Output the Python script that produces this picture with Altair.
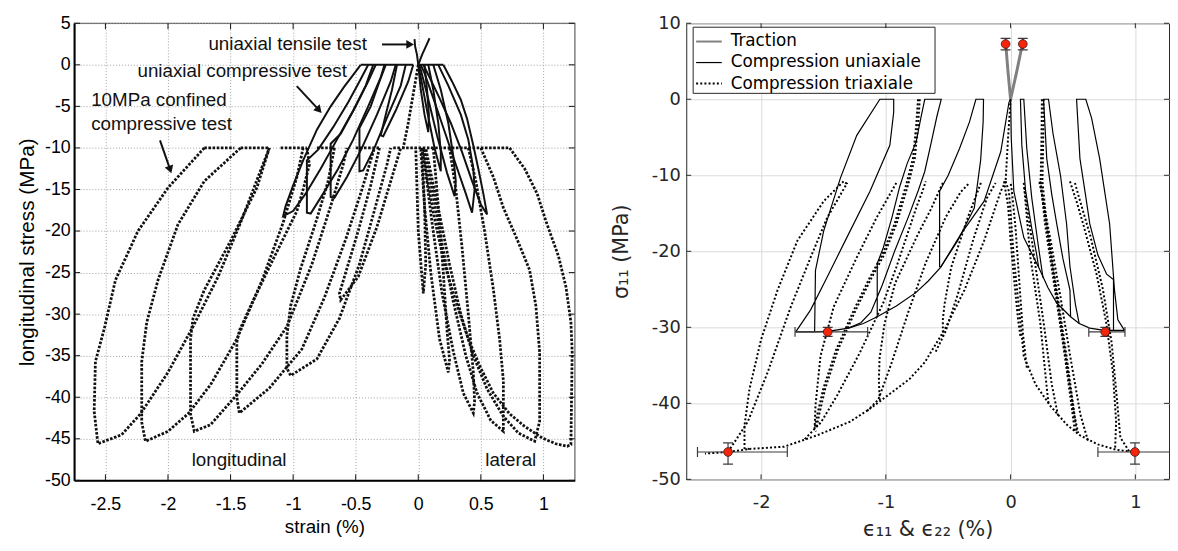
import altair as alt
import pandas as pd

# =====================================================================
# LEFT PANEL  (strain %, longitudinal stress MPa)
# =====================================================================
L_XTICKS = [-2.5, -2, -1.5, -1, -0.5, 0, 0.5, 1]
L_YTICKS = [5, 0, -5, -10, -15, -20, -25, -30, -35, -40, -45, -50]

# --- 10 MPa confined compressive test (dotted) ---
lt_hydro = [(0.0, 0.0), (-0.04, -3.5), (-0.08, -7.0), (-0.12, -10.0)]
lt_plat_1 = [(-1.71, -10.0), (-1.47, -10.0)]
lt_plat_2 = [(-1.42, -10.0), (-1.19, -10.0)]
lt_plat_3 = [(-1.10, -10.0), (-0.89, -10.0)]
lt_plat_4 = [(-0.81, -10.0), (-0.67, -10.0)]
lt_plat_5 = [(-0.50, -10.0), (-0.31, -10.0)]
lt_plat_6 = [(-0.20, -10.0), (-0.14, -10.0)]
lt_plat_7 = [(-0.13, -10.0), (0.73, -10.0)]
lt_loop_a = [(-1.71, -10.0), (-2.00, -14.8), (-2.24, -20.0), (-2.42, -25.9), (-2.51, -31.8), (-2.58, -35.7),
             (-2.59, -41.7), (-2.56, -45.6), (-2.37, -44.5), (-2.22, -42.0), (-2.00, -37.0), (-1.80, -31.5),
             (-1.60, -25.5), (-1.42, -19.0), (-1.28, -13.5), (-1.19, -10.0)]
lt_loop_b = [(-1.42, -10.0), (-1.71, -14.0), (-1.92, -19.2), (-2.08, -25.9), (-2.17, -31.0), (-2.21, -35.7),
             (-2.21, -43.0), (-2.18, -45.3), (-2.00, -44.1), (-1.84, -42.0), (-1.66, -38.5), (-1.45, -33.0),
             (-1.25, -26.0), (-1.08, -19.0), (-0.97, -13.5), (-0.92, -10.0)]
lt_loop_c = [(-1.19, -10.0), (-1.29, -14.8), (-1.50, -21.2), (-1.71, -27.1), (-1.80, -30.5), (-1.82, -33.0),
             (-1.82, -42.0), (-1.79, -44.1), (-1.66, -43.3), (-1.45, -39.7), (-1.25, -36.0), (-1.05, -31.5),
             (-0.85, -24.0), (-0.70, -17.0), (-0.60, -12.0), (-0.57, -10.0)]
lt_loop_d = [(-0.89, -10.0), (-0.87, -12.0), (-0.92, -15.0), (-0.97, -17.6), (-1.15, -23.1), (-1.33, -28.7),
             (-1.43, -32.0), (-1.45, -33.4), (-1.45, -40.0), (-1.43, -41.9), (-1.19, -38.9), (-0.93, -34.2),
             (-0.75, -28.0), (-0.58, -21.0), (-0.45, -15.0), (-0.37, -11.0), (-0.35, -10.0)]
lt_loop_e = [(-0.67, -10.0), (-0.72, -14.0), (-0.82, -19.0), (-0.94, -24.5), (-1.02, -29.0), (-1.05, -32.6),
             (-1.05, -36.5), (-1.02, -37.4), (-0.81, -35.4), (-0.63, -30.5), (-0.47, -24.0), (-0.35, -17.5),
             (-0.25, -12.0), (-0.22, -10.0)]
lt_loop_f = [(-0.31, -10.0), (-0.38, -14.5), (-0.48, -20.0), (-0.58, -25.0), (-0.63, -27.5), (-0.62, -28.3),
             (-0.48, -25.5), (-0.33, -19.5), (-0.20, -13.0), (-0.14, -10.0)]
lt_lat_1 = [(0.73, -10.0), (0.85, -12.5), (0.95, -15.5), (1.02, -18.8), (1.12, -23.0), (1.18, -26.7),
            (1.22, -31.0), (1.23, -34.6), (1.225, -40.0), (1.22, -45.7), (1.19, -45.9), (1.10, -45.6),
            (0.99, -44.9), (0.85, -43.5), (0.73, -42.0), (0.60, -39.5), (0.50, -36.5), (0.40, -33.0),
            (0.30, -28.5), (0.21, -24.0), (0.13, -18.5), (0.07, -13.5), (0.04, -10.0)]
lt_lat_2 = [(0.50, -10.0), (0.60, -13.5), (0.68, -17.2), (0.79, -21.0), (0.89, -24.7), (0.94, -29.0),
            (0.97, -34.6), (0.97, -42.9), (0.93, -45.3), (0.80, -44.3), (0.68, -42.3), (0.55, -39.0),
            (0.44, -35.0), (0.34, -30.0), (0.25, -24.0), (0.17, -18.0), (0.10, -13.0), (0.06, -10.0)]
lt_lat_3 = [(0.40, -10.0), (0.46, -14.0), (0.53, -20.0), (0.60, -27.0), (0.65, -33.0), (0.68, -38.0),
            (0.68, -42.0), (0.68, -44.1), (0.58, -42.8), (0.47, -39.5), (0.38, -35.0), (0.28, -28.5),
            (0.19, -21.5), (0.11, -15.0), (0.06, -11.0), (0.04, -10.0)]
lt_lat_4 = [(0.25, -10.0), (0.30, -15.0), (0.35, -22.0), (0.40, -30.0), (0.44, -37.0), (0.45, -40.5),
            (0.44, -41.9), (0.36, -39.5), (0.28, -34.5), (0.19, -27.5), (0.11, -19.0), (0.06, -13.0), (0.03, -10.0)]
lt_lat_5 = [(0.12, -10.0), (0.16, -17.0), (0.20, -25.0), (0.23, -32.0), (0.25, -35.5), (0.24, -37.0),
            (0.17, -33.0), (0.10, -25.0), (0.05, -17.0), (0.02, -10.0)]
lt_lat_6 = [(0.03, -10.0), (0.05, -17.0), (0.06, -24.0), (0.04, -27.5), (0.00, -20.0), (-0.02, -10.0)]

# --- uniaxial compressive / tensile tests (solid) ---
lu_plat_long = [(-0.46, 0.0), (-0.04, 0.0)]
lu_plat_lat = [(0.0, 0.0), (0.20, 0.0)]
lu_long_1 = [(-0.46, 0.0), (-0.52, -1.2), (-0.59, -2.6), (-0.70, -5.0), (-0.81, -7.8), (-0.92, -11.5),
             (-1.00, -14.5), (-1.06, -17.0), (-1.08, -18.2), (-1.00, -17.6), (-0.90, -15.5), (-0.78, -12.5),
             (-0.65, -9.0), (-0.52, -5.5), (-0.42, -2.5), (-0.36, 0.0)]
lu_long_2 = [(-0.40, 0.0), (-0.47, -2.0), (-0.56, -4.5), (-0.68, -7.5), (-0.80, -10.2), (-0.89, -11.5),
             (-0.89, -17.8), (-0.86, -17.9), (-0.76, -15.5), (-0.64, -12.5), (-0.52, -9.0), (-0.40, -5.0),
             (-0.30, -1.5), (-0.27, 0.0)]
lu_long_3 = [(-0.34, 0.0), (-0.40, -2.0), (-0.50, -5.0), (-0.62, -8.3), (-0.70, -9.5), (-0.70, -15.9),
             (-0.67, -16.0), (-0.57, -13.5), (-0.45, -10.0), (-0.33, -6.0), (-0.22, -2.0), (-0.18, 0.0)]
lu_long_4 = [(-0.26, 0.0), (-0.31, -2.0), (-0.38, -5.0), (-0.47, -7.6), (-0.47, -12.8), (-0.44, -12.7),
             (-0.35, -10.0), (-0.24, -6.0), (-0.14, -2.5), (-0.10, 0.0)]
lu_long_5 = [(-0.17, 0.0), (-0.21, -3.0), (-0.26, -6.0), (-0.30, -8.5), (-0.28, -8.6), (-0.18, -5.5),
             (-0.08, -2.0), (-0.04, 0.0)]
lu_lat_1 = [(0.20, 0.0), (0.27, -2.0), (0.34, -4.2), (0.39, -6.5), (0.44, -9.7), (0.48, -12.5), (0.52, -15.5),
            (0.55, -18.0), (0.50, -16.8), (0.43, -14.0), (0.35, -10.5), (0.26, -7.0), (0.17, -4.0), (0.09, -1.5),
            (0.04, 0.0)]
lu_lat_2 = [(0.16, 0.0), (0.24, -2.5), (0.34, -6.0), (0.40, -9.0), (0.44, -12.5), (0.45, -15.0), (0.43, -17.8),
            (0.38, -15.5), (0.30, -12.0), (0.21, -8.0), (0.12, -4.0), (0.05, -1.0), (0.02, 0.0)]
lu_lat_3 = [(0.12, 0.0), (0.18, -3.0), (0.24, -7.0), (0.28, -11.0), (0.30, -14.0), (0.29, -15.8), (0.23, -13.0),
            (0.15, -8.5), (0.07, -3.5), (0.01, 0.0)]
lu_lat_4 = [(0.08, 0.0), (0.12, -3.0), (0.16, -7.0), (0.18, -10.5), (0.18, -12.8), (0.13, -10.0), (0.07, -5.5),
            (0.02, -1.5), (0.0, 0.0)]
lu_lat_5 = [(0.05, 0.0), (0.07, -3.0), (0.085, -6.0), (0.08, -8.1), (0.05, -6.0), (0.02, -3.0), (0.0, 0.0)]
lu_tens_1 = [(0.0, 0.0), (-0.01, 1.2), (-0.025, 2.2), (-0.03, 3.1)]
lu_tens_2 = [(0.0, 0.0), (0.03, 1.2), (0.06, 2.2), (0.09, 3.2)]

# --- annotations ---
ann_text = ["uniaxial tensile test", "uniaxial compressive test", "10MPa confined",
            "compressive test", "longitudinal", "lateral"]
ann_x = [-1.677, -2.244, -2.614, -2.614, -1.811, 0.535]
ann_y = [2.45, -0.75, -4.19, -7.15, -47.6, -47.6]
arr_x0 = [-0.29, -0.971, -2.064]
arr_y0 = [2.45, -2.56, -9.09]
arr_x1 = [-0.075, -0.80, -1.986]
arr_y1 = [2.45, -5.34, -12.46]
arr_angle = [90, 137, 161]

# =====================================================================
# RIGHT PANEL  (eps11 & eps22 %, sigma11 MPa)
# =====================================================================
R_XTICKS = [-2, -1, 0, 1]
R_YTICKS = [10, 0, -10, -20, -30, -40, -50]
LEG_LABELS = ["Traction", "Compression uniaxiale", "Compression triaxiale"]

# --- traction (grey) ---
rt_1 = [(0.0, 0.0), (-0.02, 3.5), (-0.035, 6.5), (-0.04, 7.27)]
rt_2 = [(0.0, 0.0), (0.05, 3.7), (0.085, 6.5), (0.098, 7.27)]

# --- compression uniaxiale (solid) ---
ru_long_low = [(0.0, 0.0), (-0.013, -0.4), (-0.079, -6.9), (-0.212, -13.4), (-0.397, -17.7), (-0.561, -22.1),
               (-0.66, -23.9), (-0.757, -25.4), (-0.916, -27.2), (-1.069, -28.6), (-1.18, -29.5), (-1.30, -30.1),
               (-1.45, -30.5), (-1.571, -30.6), (-1.722, -30.6)]
ru_long_a = [(-1.722, -30.6), (-1.603, -27.7), (-1.471, -23.4), (-1.313, -18.2), (-1.127, -12.1),
             (-0.968, -6.05), (-0.937, -1.7), (-0.937, 0.0), (-1.048, 0.0), (-1.233, -4.75), (-1.365, -10.4),
             (-1.498, -17.3), (-1.564, -22.5), (-1.571, -30.6)]
ru_long_b = [(-1.30, -30.1), (-1.20, -29.4), (-1.12, -28.0), (-1.03, -24.5), (-0.93, -20.0), (-0.82, -15.5),
             (-0.74, -12.0), (-0.688, -9.5), (-0.635, -5.6), (-0.59, -2.2), (-0.556, 0.0), (-0.688, 0.0),
             (-0.72, -2.5), (-0.757, -5.6), (-0.83, -8.5), (-0.889, -11.5), (-0.95, -15.5), (-1.02, -19.5),
             (-1.069, -21.6), (-1.069, -28.6)]
ru_long_c = [(-0.561, -22.1), (-0.424, -18.6), (-0.291, -14.3), (-0.24, -8.0), (-0.22, -3.0), (-0.217, 0.0),
             (-0.278, 0.0), (-0.33, -3.0), (-0.41, -6.5), (-0.50, -10.0), (-0.569, -12.1), (-0.569, -22.1)]
ru_lat_low = [(0.0, 0.0), (0.005, -5.0), (0.026, -12.1), (0.106, -18.2), (0.225, -22.1), (0.30, -24.8),
              (0.37, -26.8), (0.481, -28.6), (0.55, -29.5), (0.635, -30.1), (0.75, -30.4), (0.825, -30.4),
              (0.913, -30.4)]
ru_lat_a = [(0.913, -30.4), (0.86, -29.0), (0.833, -25.1), (0.794, -16.4), (0.714, -7.8), (0.65, -2.5),
            (0.603, 0.0), (0.529, 0.0), (0.556, -7.8), (0.60, -12.5), (0.635, -16.4), (0.70, -20.5),
            (0.77, -23.0), (0.825, -23.7), (0.825, -30.4)]
ru_lat_b = [(0.55, -29.5), (0.52, -27.0), (0.476, -22.0), (0.449, -16.4), (0.40, -10.0), (0.34, -4.5),
            (0.304, 0.0), (0.264, 0.0), (0.29, -7.8), (0.33, -12.5), (0.37, -16.4), (0.42, -21.0),
            (0.476, -25.1), (0.481, -28.6)]
ru_lat_c = [(0.26, -23.5), (0.22, -19.0), (0.17, -13.0), (0.13, -6.5), (0.106, 0.0), (0.079, 0.0),
            (0.09, -6.0), (0.12, -12.0), (0.17, -17.0), (0.21, -20.5), (0.225, -22.1)]

# --- compression triaxiale (dotted) ---
rx_hydro = [(0.0, 0.0), (-0.02, -5.0), (-0.04, -10.8)]
rx_long_low = [(-0.04, -10.8), (-0.079, -12.1), (-0.212, -18.6), (-0.37, -25.1), (-0.529, -30.3),
               (-0.688, -34.6), (-0.81, -36.8), (-1.021, -39.4), (-1.127, -40.7), (-1.286, -42.4),
               (-1.55, -44.2), (-1.815, -45.7), (-2.093, -46.0), (-2.265, -46.4), (-2.45, -46.6)]
rx_a_env = [(-1.339, -10.8), (-1.498, -13.4), (-1.709, -18.6), (-1.868, -25.1), (-2.0, -31.6),
            (-2.093, -38.1), (-2.133, -42.9), (-2.133, -45.9), (-2.093, -46.0)]
rx_a_unl = [(-2.265, -46.4), (-2.106, -42.4), (-1.947, -35.9), (-1.762, -27.3), (-1.603, -20.8),
            (-1.471, -15.6), (-1.313, -11.1), (-1.339, -10.8)]
rx_b_env = [(-0.916, -11.0), (-1.075, -15.6), (-1.233, -20.8), (-1.418, -27.3), (-1.524, -33.8),
            (-1.564, -40.3), (-1.571, -43.3), (-1.56, -43.7)]
rx_b_unl = [(-1.65, -44.7), (-1.52, -42.5), (-1.392, -39.0), (-1.207, -33.3), (-1.021, -26.8),
            (-0.916, -22.1), (-0.757, -14.3), (-0.70, -11.8), (-0.68, -10.8)]
rx_z_long_1 = [(-0.742, 0.0), (-0.757, -3.5), (-0.783, -7.8), (-0.836, -11.2), (-0.93, -16.4),
               (-1.03, -20.5), (-1.127, -23.4), (-1.25, -27.5), (-1.40, -33.0), (-1.50, -38.0),
               (-1.55, -41.5), (-1.571, -43.3)]
rx_z_long_2 = [(-0.728, 0.0), (-0.742, -3.5), (-0.768, -7.8), (-0.821, -11.2), (-0.915, -16.4),
               (-1.015, -20.5), (-1.112, -23.4), (-1.235, -27.5), (-1.385, -33.0), (-1.485, -38.0),
               (-1.535, -41.5), (-1.556, -43.3)]
rx_c_env = [(-0.543, -11.0), (-0.64, -14.5), (-0.741, -17.7), (-0.926, -24.2), (-1.01, -29.5),
            (-1.05, -34.0), (-1.056, -37.0), (-1.048, -39.8)]
rx_c_unl = [(-1.15, -41.0), (-1.06, -39.5), (-0.95, -34.5), (-0.82, -28.0), (-0.68, -21.5),
            (-0.52, -15.5), (-0.40, -12.2), (-0.33, -11.0)]
rx_d_env = [(-0.238, -11.0), (-0.344, -15.6), (-0.476, -22.1), (-0.53, -27.0), (-0.543, -29.0),
            (-0.543, -31.2)]
rx_d_unl = [(-0.60, -33.2), (-0.52, -30.5), (-0.42, -25.5), (-0.30, -18.5), (-0.19, -13.0), (-0.12, -11.0)]
rx_lat_low = [(-0.04, -10.8), (-0.013, -12.1), (0.026, -20.8), (0.066, -27.3), (0.106, -33.8), (0.20, -37.5),
              (0.317, -40.3), (0.45, -42.8), (0.556, -44.2), (0.70, -45.4), (0.846, -46.1), (0.997, -46.4)]
rx_lat_a_env = [(0.476, -10.8), (0.53, -13.5), (0.582, -16.4), (0.688, -22.9), (0.767, -29.4),
                (0.82, -35.9), (0.846, -42.4), (0.838, -45.9)]
rx_lat_a_unl = [(0.95, -46.3), (0.88, -44.5), (0.85, -39.0), (0.81, -32.0), (0.74, -25.0), (0.64, -18.0),
                (0.55, -13.0), (0.516, -11.0)]
rx_z_lat_1 = [(0.265, 0.0), (0.262, -5.0), (0.255, -10.8), (0.29, -16.4), (0.37, -25.1), (0.449, -33.8),
              (0.50, -40.0), (0.529, -43.7)]
rx_z_lat_2 = [(0.251, 0.0), (0.248, -5.0), (0.241, -10.8), (0.276, -16.4), (0.356, -25.1), (0.435, -33.8),
              (0.486, -40.0), (0.515, -43.7)]
rx_lat_b_env = [(0.238, -10.8), (0.30, -18.0), (0.38, -27.0), (0.46, -36.0), (0.51, -41.5), (0.542, -43.9)]
rx_lat_b_unl = [(0.62, -44.9), (0.56, -41.5), (0.48, -34.0), (0.40, -26.0), (0.32, -18.5), (0.25, -12.5),
                (0.23, -10.8)]
rx_lat_c_env = [(0.106, -11.0), (0.13, -15.5), (0.159, -20.8), (0.238, -29.4), (0.291, -38.1), (0.304, -40.0)]
rx_lat_c_unl = [(0.38, -41.6), (0.33, -37.5), (0.27, -30.0), (0.20, -22.0), (0.14, -15.0), (0.11, -11.5)]
rx_lat_d_env = [(-0.053, -10.8), (-0.02, -14.0), (0.0, -18.6), (0.03, -24.0), (0.06, -29.0), (0.079, -31.2)]
rx_lat_d_unl = [(0.13, -35.3), (0.10, -31.0), (0.07, -24.0), (0.04, -17.0), (0.01, -12.0), (0.0, -11.0)]

# --- experimental points with error bars ---
pt_x = [-2.265, -1.466, 0.759, 0.997, -0.04, 0.098]
pt_y = [-46.4, -30.6, -30.6, -46.4, 7.27, 7.27]
ex_lo = [-2.51, -1.728, 0.627, 0.70, -0.04, 0.098]
ex_hi = [-1.79, -1.146, 0.917, 1.32, -0.04, 0.098]
ey_lo = [-48.0, -31.2, -31.2, -48.0, 6.5, 6.5]
ey_hi = [-45.2, -30.0, -30.0, -45.2, 8.0, 8.0]


# =====================================================================
def curves_frame(named):
    rows = []
    for name, pts in named.items():
        for i, (x, y) in enumerate(pts):
            rows.append({"curve": name, "i": i, "x": x, "y": y})
    return pd.DataFrame(rows)


LFONT = "Liberation Sans"
RFONT = "DejaVu Sans"
LW, LH = 507, 463
RW, RH = 489, 462

lxs = alt.Scale(domain=[-2.75, 1.25], nice=False, zero=False)
lys = alt.Scale(domain=[-50, 5], nice=False, zero=False)
rxs = alt.Scale(domain=[-2.6, 1.27], nice=False, zero=False)
rys = alt.Scale(domain=[-50, 10], nice=False, zero=False)

l_common = dict(labelExpr="toString(datum.value)", ticks=False, domainColor="black", domainWidth=2,
                grid=True, gridColor="#a0a0a0", gridDash=[1, 2], gridWidth=1, labelFont=LFONT,
                labelFontSize=18, labelColor="black", titleFont=LFONT, titleFontWeight="normal",
                titleColor="black")
lx_axis = alt.Axis(values=L_XTICKS, title="strain (%)", labelPadding=16, titleFontSize=19,
                   titlePadding=4, **l_common)
ly_axis = alt.Axis(values=L_YTICKS, title="longitudinal stress (MPa)", labelPadding=4, titleFontSize=21,
                   titlePadding=7, **l_common)

r_common = dict(labelExpr="toString(datum.value)", ticks=False, domain=False, grid=True,
                gridColor="#dadada", gridWidth=1, labelFont=RFONT, labelFontSize=18, labelColor="#262626",
                titleFont=RFONT, titleFontWeight="normal", titleColor="#262626", titleFontSize=21)
rx_axis = alt.Axis(values=R_XTICKS, title="ϵ₁₁ & ϵ₂₂ (%)", labelPadding=15, titlePadding=7, **r_common)
ry_axis = alt.Axis(values=R_YTICKS, title="σ₁₁  (MPa)", labelPadding=6, titlePadding=20, **r_common)


def LX(f="x"):
    return alt.X(f"{f}:Q", scale=lxs, axis=lx_axis)


def LY(f="y"):
    return alt.Y(f"{f}:Q", scale=lys, axis=ly_axis)


def RX(f="x"):
    return alt.X(f"{f}:Q", scale=rxs, axis=rx_axis)


def RY(f="y"):
    return alt.Y(f"{f}:Q", scale=rys, axis=ry_axis)


def lines(named, X, Y, **mark):
    return alt.Chart(curves_frame(named)).mark_line(clip=True, **mark).encode(
        x=X(), y=Y(), detail="curve:N", order="i:Q")


def inward_ticks(xs, ys, X, Y, W, H, L, color):
    xt = pd.DataFrame({"x": xs})
    yt = pd.DataFrame({"y": ys})
    m = dict(color=color, strokeWidth=1)
    return [
        alt.Chart(xt).mark_rule(**m).encode(x=X(), y=alt.value(H - L), y2=alt.value(H)),
        alt.Chart(xt).mark_rule(**m).encode(x=X(), y=alt.value(0), y2=alt.value(L)),
        alt.Chart(yt).mark_rule(**m).encode(y=Y(), x=alt.value(0), x2=alt.value(L)),
        alt.Chart(yt).mark_rule(**m).encode(y=Y(), x=alt.value(W - L), x2=alt.value(W)),
    ]


# ---------------- left panel ----------------
left_dotted = dict(lt_hydro=lt_hydro, lt_plat_1=lt_plat_1, lt_plat_2=lt_plat_2, lt_plat_3=lt_plat_3,
                   lt_plat_4=lt_plat_4, lt_plat_5=lt_plat_5, lt_plat_6=lt_plat_6, lt_plat_7=lt_plat_7,
                   lt_loop_a=lt_loop_a, lt_loop_b=lt_loop_b, lt_loop_c=lt_loop_c, lt_loop_d=lt_loop_d,
                   lt_loop_e=lt_loop_e, lt_loop_f=lt_loop_f, lt_lat_1=lt_lat_1, lt_lat_2=lt_lat_2,
                   lt_lat_3=lt_lat_3, lt_lat_4=lt_lat_4, lt_lat_5=lt_lat_5, lt_lat_6=lt_lat_6)
left_solid = dict(lu_plat_long=lu_plat_long, lu_plat_lat=lu_plat_lat, lu_long_1=lu_long_1,
                  lu_long_2=lu_long_2, lu_long_3=lu_long_3, lu_long_4=lu_long_4, lu_long_5=lu_long_5,
                  lu_lat_1=lu_lat_1, lu_lat_2=lu_lat_2, lu_lat_3=lu_lat_3, lu_lat_4=lu_lat_4,
                  lu_lat_5=lu_lat_5, lu_tens_1=lu_tens_1, lu_tens_2=lu_tens_2)

l_dot = lines(left_dotted, LX, LY, color="#111111", strokeWidth=2.8, strokeDash=[2.6, 1.6])
l_sol = lines(left_solid, LX, LY, color="#111111", strokeWidth=2)
ann_df = pd.DataFrame({"x": ann_x, "y": ann_y, "t": ann_text})
l_txt = alt.Chart(ann_df).mark_text(align="left", baseline="middle", font=LFONT, fontSize=19,
                                    color="#111111").encode(x=LX(), y=LY(), text="t:N")
arr_df = pd.DataFrame({"x": arr_x0, "y": arr_y0, "x2": arr_x1, "y2": arr_y1, "a": arr_angle})
l_shaft = alt.Chart(arr_df).mark_rule(color="#111111", strokeWidth=2).encode(
    x=LX(), y=LY(), x2="x2:Q", y2="y2:Q")
l_head = alt.Chart(arr_df).mark_point(shape="triangle", filled=True, color="#111111", size=80,
                                      opacity=1).encode(
    x=LX("x2"), y=LY("y2"), angle=alt.Angle("a:Q", scale=None))

left = alt.layer(
    l_dot, l_sol, l_shaft, l_head, l_txt,
    *inward_ticks(L_XTICKS, L_YTICKS, LX, LY, LW, LH, 6, "#111111"),
).properties(width=LW, height=LH,
             view=alt.ViewBackground(stroke="#6a6a6a", strokeWidth=1.3, fill="white"))

# ---------------- right panel ----------------
right_trac = dict(rt_1=rt_1, rt_2=rt_2)
right_solid = dict(ru_long_low=ru_long_low, ru_long_a=ru_long_a, ru_long_b=ru_long_b, ru_long_c=ru_long_c,
                   ru_lat_low=ru_lat_low, ru_lat_a=ru_lat_a, ru_lat_b=ru_lat_b, ru_lat_c=ru_lat_c)
right_dotted = dict(rx_hydro=rx_hydro, rx_long_low=rx_long_low, rx_a_env=rx_a_env, rx_a_unl=rx_a_unl,
                    rx_b_env=rx_b_env, rx_b_unl=rx_b_unl, rx_z_long_1=rx_z_long_1, rx_z_long_2=rx_z_long_2,
                    rx_c_env=rx_c_env, rx_c_unl=rx_c_unl, rx_d_env=rx_d_env, rx_d_unl=rx_d_unl,
                    rx_lat_low=rx_lat_low, rx_lat_a_env=rx_lat_a_env, rx_lat_a_unl=rx_lat_a_unl,
                    rx_z_lat_1=rx_z_lat_1, rx_z_lat_2=rx_z_lat_2, rx_lat_b_env=rx_lat_b_env,
                    rx_lat_b_unl=rx_lat_b_unl, rx_lat_c_env=rx_lat_c_env, rx_lat_c_unl=rx_lat_c_unl,
                    rx_lat_d_env=rx_lat_d_env, rx_lat_d_unl=rx_lat_d_unl)

TRAC_STYLE = dict(color="#808080", strokeWidth=3)
UNI_STYLE = dict(color="#000000", strokeWidth=1.2)
TRI_STYLE = dict(color="#000000", strokeWidth=2, strokeDash=[2, 2.2])
EB_COLOR = "#3c3c3c"

r_trac = lines(right_trac, RX, RY, **TRAC_STYLE)
r_dot = lines(right_dotted, RX, RY, **TRI_STYLE)
r_sol = lines(right_solid, RX, RY, **UNI_STYLE)

eb_df = pd.DataFrame({"x": pt_x, "y": pt_y, "xlo": ex_lo, "xhi": ex_hi, "ylo": ey_lo, "yhi": ey_hi})
eb = alt.Chart(eb_df)
r_hbar = eb.mark_rule(color=EB_COLOR, strokeWidth=1.2, clip=True).encode(x=RX("xlo"), x2="xhi:Q", y=RY())
r_vbar = eb.mark_rule(color=EB_COLOR, strokeWidth=1.2, clip=True).encode(x=RX(), y=RY("ylo"), y2="yhi:Q")
cap_m = dict(color=EB_COLOR, thickness=1.2, size=10, opacity=1, clip=True)
r_cap1 = eb.mark_tick(orient="vertical", **cap_m).encode(x=RX("xlo"), y=RY())
r_cap2 = eb.mark_tick(orient="vertical", **cap_m).encode(x=RX("xhi"), y=RY())
r_cap3 = eb.mark_tick(orient="horizontal", **cap_m).encode(x=RX(), y=RY("ylo"))
r_cap4 = eb.mark_tick(orient="horizontal", **cap_m).encode(x=RX(), y=RY("yhi"))
r_pts = eb.mark_point(shape="circle", filled=True, fill="#f2260c", stroke="#4a1208", strokeWidth=0.8,
                      size=78, opacity=1).encode(x=RX(), y=RY())

one = pd.DataFrame({"k": [0]})
leg_layers = [alt.Chart(one).mark_rect(fill="white", stroke="#262626", strokeWidth=1).encode(
    x=alt.value(7), x2=alt.value(252), y=alt.value(4), y2=alt.value(71))]
for i, (lab, sty) in enumerate(zip(LEG_LABELS, [TRAC_STYLE, UNI_STYLE, TRI_STYLE])):
    ry = 18.5 + 21.3 * i
    sty2 = dict(sty)
    if i == 0:
        sty2["strokeWidth"] = 2
    leg_layers.append(alt.Chart(one).mark_rule(**sty2).encode(
        x=alt.value(10), x2=alt.value(36), y=alt.value(ry)))
    leg_layers.append(alt.Chart(pd.DataFrame({"t": [lab]})).mark_text(
        align="left", baseline="middle", font=RFONT, fontSize=17, color="#000000").encode(
        x=alt.value(45), y=alt.value(ry), text="t:N"))

right = alt.layer(
    r_trac, r_dot, r_sol, r_hbar, r_vbar, r_cap1, r_cap2, r_cap3, r_cap4, r_pts,
    *leg_layers,
    *inward_ticks(R_XTICKS, R_YTICKS, RX, RY, RW, RH, 5, "#262626"),
).properties(width=RW, height=RH,
             view=alt.ViewBackground(stroke="#262626", strokeWidth=1, fill="white"))

chart = alt.hconcat(left, right, spacing=34).properties(
    padding={"left": 8, "top": 2, "right": 0, "bottom": 0}
).configure(background="white")

chart.save("out.html", embed_options={"renderer": "svg", "actions": False})
